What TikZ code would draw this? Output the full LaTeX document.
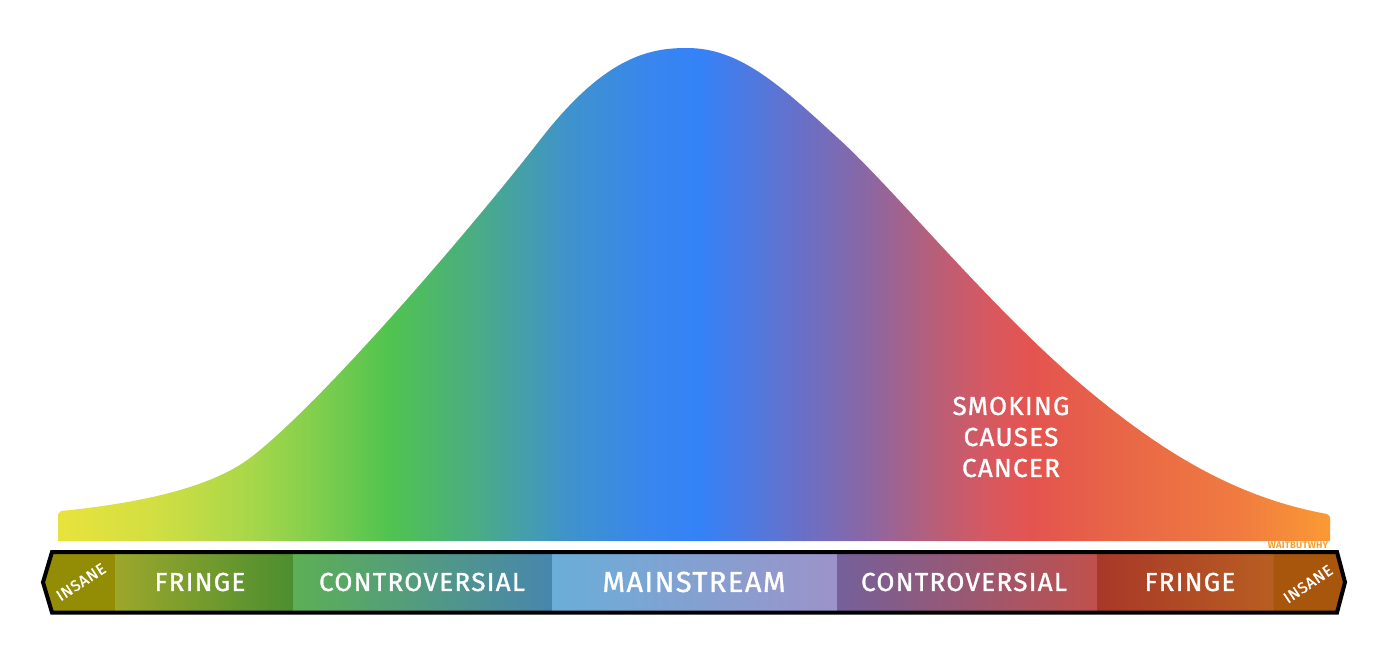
\documentclass[tikz,border=0pt]{standalone}
\usepackage{fontspec}
\setmainfont{Fira Sans}
\newfontfamily\labfont{Fira Sans}[FakeBold=1.2, LetterSpace=5]
\newfontfamily\wbwfont{Fira Sans}[LetterSpace=2]
\definecolor{b01}{HTML}{E8E33C}
\definecolor{b02}{HTML}{D3DF42}
\definecolor{b03}{HTML}{A8D74A}
\definecolor{b04}{HTML}{7ECE4D}
\definecolor{b05}{HTML}{50C350}
\definecolor{b06}{HTML}{4AAE80}
\definecolor{b07}{HTML}{3F93CC}
\definecolor{b08}{HTML}{3886EE}
\definecolor{b09}{HTML}{3482F8}
\definecolor{b10}{HTML}{6A6FC6}
\definecolor{b11}{HTML}{8A67A4}
\definecolor{b12}{HTML}{B45F7C}
\definecolor{b13}{HTML}{D8585F}
\definecolor{b14}{HTML}{E4544F}
\definecolor{b15}{HTML}{E86547}
\definecolor{b16}{HTML}{F07B40}
\definecolor{b17}{HTML}{FA9A33}
\definecolor{insL}{HTML}{938C05}
\definecolor{frLa}{HTML}{9CA72B}
\definecolor{frLb}{HTML}{4C8E30}
\definecolor{coLa}{HTML}{5DAF55}
\definecolor{coLb}{HTML}{4786AE}
\definecolor{maA}{HTML}{6AAED8}
\definecolor{maB}{HTML}{6A9AEA}
\definecolor{maC}{HTML}{9C93CA}
\definecolor{coRa}{HTML}{74609A}
\definecolor{coRb}{HTML}{C0504C}
\definecolor{frRa}{HTML}{A83828}
\definecolor{frRb}{HTML}{B85E22}
\definecolor{insR}{HTML}{A8560B}
\definecolor{wbwc}{HTML}{F5A030}
\pgfdeclarehorizontalshading{bell}{100bp}{color(0bp)=(b01); color(25bp)=(b01); color(28.62bp)=(b02); color(32.55bp)=(b03); color(35.3bp)=(b04); color(38.05bp)=(b05); color(41.19bp)=(b06); color(45.01bp)=(b07); color(48.27bp)=(b08); color(50.24bp)=(b09); color(54.32bp)=(b10); color(56.76bp)=(b11); color(59.2bp)=(b12); color(61.63bp)=(b13); color(63.29bp)=(b14); color(66.55bp)=(b15); color(71.42bp)=(b16); color(75bp)=(b17); color(100bp)=(b17)}
\tikzset{
  seg/.style={inner sep=0pt, outer sep=0pt, minimum height=60.5pt, anchor=west},
  lab/.style={text=white, inner sep=0pt, font=\labfont\fontsize{26}{31}\selectfont},
  ins/.style={text=white, inner sep=0pt, font=\labfont\fontsize{15.5}{17}\selectfont},
}
\begin{document}
\begin{tikzpicture}[x=1pt,y=-1pt]
\useasboundingbox (0,0) rectangle (1394,666);
% bell curve
\shade[shading=bell] (58,541) -- (58,514) -- (61,511)
 .. controls (140,503) and (210,488) .. (250,458)
 .. controls (320,405) and (470,230) .. (540,140)
 .. controls (605,56) and (650,48) .. (687,48)
 .. controls (740,48) and (780,85) .. (840,140)
 .. controls (900,195) and (1000,320) .. (1100,400)
 .. controls (1180,465) and (1250,500) .. (1327,514)
 -- (1330,517) -- (1330,541) -- cycle;
% bar segments
\fill[insL] (52,552) -- (115.5,552) -- (115.5,612.5) -- (52,612.5) -- (43,582.25) -- cycle;
\node[seg, left color=frLa, right color=frLb, minimum width=178pt] (sfrL) at (115,582.25) {};
\node[seg, left color=coLa, right color=coLb, minimum width=259pt] (scoL) at (293,582.25) {};
\node[seg, left color=maA, middle color=maB, right color=maC, minimum width=285pt] (smain) at (552,582.25) {};
\node[seg, left color=coRa, right color=coRb, minimum width=260pt] (scoR) at (837,582.25) {};
\node[seg, left color=frRa, right color=frRb, minimum width=177pt] (sfrR) at (1097,582.25) {};
\fill[insR] (1273.5,552) -- (1337,552) -- (1345,582.25) -- (1337,612.5) -- (1273.5,612.5) -- cycle;
\draw[line width=4pt, line join=miter] (52,552) -- (1337,552) -- (1345,582.25) -- (1337,612.5) -- (52,612.5) -- (43,582.25) -- cycle;
% labels
\node[ins, rotate=33] (insaneL) at (81,582) {INSANE};
\node[lab] (fringeL) at (200,582) {FRINGE};
\node[lab] (controL) at (422,582) {CONTROVERSIAL};
\node[lab, font=\labfont\fontsize{29}{35}\selectfont] (mainstream) at (694,582) {MAINSTREAM};
\node[lab] (controR) at (964,582) {CONTROVERSIAL};
\node[lab] (fringeR) at (1190,582) {FRINGE};
\node[ins, rotate=34] (insaneR) at (1308,584) {INSANE};
\node[lab, align=center] (smoking) at (1011,437) {SMOKING\\CAUSES\\CANCER};
\node[text=wbwc, inner sep=0pt, font=\wbwfont\bfseries\fontsize{9.5}{10}\selectfont] (wbw) at (1298,545) {WAITBUTWHY};
\end{tikzpicture}
\end{document}
